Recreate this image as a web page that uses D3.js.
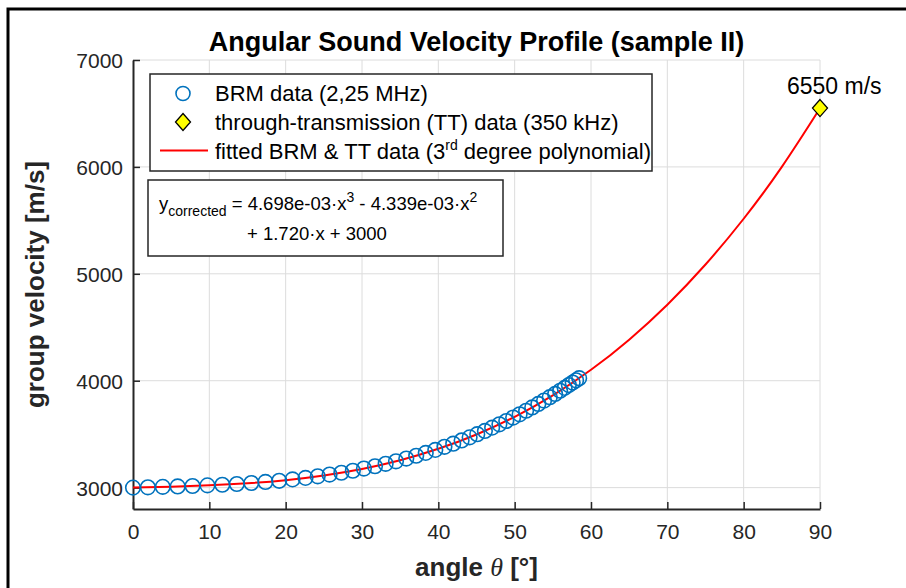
<!DOCTYPE html>
<html>
<head>
<meta charset="utf-8">
<script src="https://cdn.jsdelivr.net/npm/d3@7"></script>
<style>
  body { margin: 0; background: #fff; }
  svg { display: block; }
  text { font-family: "Liberation Sans", Arial, Helvetica, sans-serif; }
</style>
</head>
<body>
<div id="chart"></div>
<script>
// BRM measurements (2,25 MHz)
const brmAngle = [0, 1.95, 3.9, 5.85, 7.8, 9.75, 11.7, 13.6, 15.5, 17.35, 19.15, 20.9, 22.6, 24.2,
  25.75, 27.3, 28.8, 30.25, 31.7, 33.1, 34.45, 35.8, 37.1, 38.35, 39.6, 40.8, 41.95, 43.05, 44.1,
  45.1, 46.1, 47.05, 48.0, 48.9, 49.8, 50.65, 51.5, 52.3, 53.1, 53.85, 54.6, 55.3, 55.95, 56.55,
  57.1, 57.6, 58.05, 58.45];
const brmVelocity = [3000, 3003, 3007, 3011, 3015, 3021, 3027, 3034, 3043, 3053, 3064, 3077, 3091, 3106,
  3122, 3139, 3158, 3178, 3200, 3223, 3246, 3272, 3298, 3325, 3353, 3382, 3411, 3441, 3470,
  3500, 3530, 3561, 3592, 3623, 3655, 3686, 3719, 3750, 3783, 3814, 3846, 3876, 3906, 3933,
  3959, 3983, 4004, 4024];

// through-transmission point (350 kHz)
const ttAngle = [90];
const ttVelocity = [6550];

// fitted curve, every 5 degrees
const fitAngle = [0, 5, 10, 15, 20, 25, 30, 35, 40, 45, 50, 55, 60, 65, 70, 75, 80, 85, 90];
const fitVelocity = [3000, 3009, 3022, 3041, 3070, 3114, 3175, 3256, 3363, 3497, 3662, 3863,
  4102, 4384, 4711, 5087, 5515, 6000, 6548];

const xTicks = [0, 10, 20, 30, 40, 50, 60, 70, 80, 90];
const yTicks = [3000, 4000, 5000, 6000, 7000];

const width = 906, height = 588;
const margin = { left: 133, right: 86, top: 60, bottom: 79 };
const axisColor = "#262626";

const svg = d3.select("#chart").append("svg")
  .attr("width", width)
  .attr("height", height);

// outer figure frame (only top and left visible)
svg.append("rect")
  .attr("x", 8).attr("y", 9)
  .attr("width", 1000).attr("height", 1000)
  .attr("fill", "none")
  .attr("stroke", "#000")
  .attr("stroke-width", 3);

const x = d3.scaleLinear().domain([0, 90]).range([margin.left, width - margin.right]);
const y = d3.scaleLinear().domain([2800, 7000]).range([height - margin.bottom, margin.top]);

// grid
const grid = svg.append("g").attr("stroke", "#dcdcdc").attr("stroke-width", 1);
grid.selectAll(".gx").data(xTicks.filter(d => d > 0)).enter().append("line")
  .attr("x1", d => x(d)).attr("x2", d => x(d))
  .attr("y1", y(2800)).attr("y2", y(7000));
grid.selectAll(".gy").data(yTicks).enter().append("line")
  .attr("x1", x(0)).attr("x2", x(90))
  .attr("y1", d => y(d)).attr("y2", d => y(d));

// axes (ticks point inward like matlab)
const xAxis = svg.append("g")
  .attr("transform", `translate(0,${y(2800)})`)
  .call(d3.axisBottom(x).tickValues(xTicks).tickSizeInner(-7).tickSizeOuter(0).tickPadding(15));
const yAxis = svg.append("g")
  .attr("transform", `translate(${x(0)},0)`)
  .call(d3.axisLeft(y).tickValues(yTicks).tickFormat(d3.format("d"))
    .tickSizeInner(-7).tickSizeOuter(0).tickPadding(10));

[xAxis, yAxis].forEach(a => {
  a.select(".domain").attr("stroke", axisColor).attr("stroke-width", 2);
  a.selectAll(".tick line").attr("stroke", axisColor).attr("stroke-width", 1.5);
  a.selectAll(".tick text")
    .attr("fill", axisColor)
    .style("font-size", "21px")
    .style("font-family", "'Liberation Sans', Arial, sans-serif");
});
yAxis.selectAll(".tick text").attr("dy", "0.36em");

// fitted line
const line = d3.line()
  .x((d, i) => x(fitAngle[i]))
  .y(d => y(d))
  .curve(d3.curveNatural);

svg.append("path")
  .datum(fitVelocity)
  .attr("d", line)
  .attr("fill", "none")
  .attr("stroke", "#ff0000")
  .attr("stroke-width", 2);

// BRM circles
svg.append("g").selectAll("circle")
  .data(brmAngle)
  .enter().append("circle")
  .attr("cx", d => x(d))
  .attr("cy", (d, i) => y(brmVelocity[i]))
  .attr("r", 7.3)
  .attr("fill", "none")
  .attr("stroke", "#0072bd")
  .attr("stroke-width", 1.6);

// TT diamond, matlab style (wider than d3's)
const diamond = "M0,-8.5L7.5,0L0,8.5L-7.5,0Z";
svg.append("g").selectAll("path")
  .data(ttAngle)
  .enter().append("path")
  .attr("d", diamond)
  .attr("transform", (d, i) => `translate(${x(d)},${y(ttVelocity[i])})`)
  .attr("fill", "#ffff00")
  .attr("stroke", "#000")
  .attr("stroke-width", 1.3);

svg.append("text")
  .attr("x", x(ttAngle[0]) - 33)
  .attr("y", y(ttVelocity[0]) - 14)
  .style("font-size", "23px")
  .attr("fill", "#000")
  .text(ttVelocity[0] + " m/s");

// title and axis labels
svg.append("text")
  .attr("x", (x(0) + x(90)) / 2)
  .attr("y", 51)
  .attr("text-anchor", "middle")
  .style("font-size", "27px")
  .style("font-weight", "bold")
  .attr("fill", "#000")
  .text("Angular Sound Velocity Profile (sample II)");

const xl = svg.append("text")
  .attr("x", (x(0) + x(90)) / 2)
  .attr("y", 576)
  .attr("text-anchor", "middle")
  .style("font-size", "26px")
  .style("font-weight", "bold")
  .attr("fill", axisColor);
xl.append("tspan").text("angle ");
xl.append("tspan").style("font-family", "'Liberation Serif', 'Times New Roman', serif").style("font-style", "italic").style("font-weight", "normal").text("θ");
xl.append("tspan").text(" [°]");

svg.append("text")
  .attr("transform", `translate(44,${(y(2800) + y(7000)) / 2}) rotate(-90)`)
  .attr("text-anchor", "middle")
  .style("font-size", "26px")
  .style("font-weight", "bold")
  .attr("fill", axisColor)
  .text("group velocity [m/s]");

// legend
const legend = svg.append("g");
legend.append("rect")
  .attr("x", 150).attr("y", 74).attr("width", 502).attr("height", 97)
  .attr("fill", "#fff").attr("stroke", "#262626").attr("stroke-width", 1.5);

legend.append("circle")
  .attr("cx", 183).attr("cy", 93.5).attr("r", 7)
  .attr("fill", "none").attr("stroke", "#0072bd").attr("stroke-width", 1.6);
legend.append("path")
  .attr("d", diamond)
  .attr("transform", "translate(183,122)")
  .attr("fill", "#ffff00").attr("stroke", "#000").attr("stroke-width", 1.3);
legend.append("line")
  .attr("x1", 160).attr("x2", 208).attr("y1", 150.5).attr("y2", 150.5)
  .attr("stroke", "#ff0000").attr("stroke-width", 2);

const legendFont = "22px";
legend.append("text").attr("x", 215).attr("y", 101).style("font-size", legendFont)
  .text("BRM data (2,25 MHz)");
legend.append("text").attr("x", 215).attr("y", 130).style("font-size", legendFont)
  .text("through-transmission (TT) data (350 kHz)");
const lt = legend.append("text").attr("x", 215).attr("y", 159).style("font-size", legendFont);
lt.append("tspan").text("fitted BRM & TT data (3");
lt.append("tspan").attr("dy", -9).style("font-size", "14px").text("rd");
lt.append("tspan").attr("dy", 9).text(" degree polynomial)");

// equation box
const eq = svg.append("g");
eq.append("rect")
  .attr("x", 148).attr("y", 180).attr("width", 355).attr("height", 76)
  .attr("fill", "#fff").attr("stroke", "#262626").attr("stroke-width", 1.5);

const e1 = eq.append("text").attr("x", 159).attr("y", 210).style("font-size", "18.5px");
e1.append("tspan").text("y");
e1.append("tspan").attr("dy", 6).style("font-size", "14px").text("corrected");
e1.append("tspan").attr("dy", -6).text(" = 4.698e-03·x");
e1.append("tspan").attr("dy", -8).style("font-size", "14px").text("3");
e1.append("tspan").attr("dy", 8).text(" - 4.339e-03·x");
e1.append("tspan").attr("dy", -8).style("font-size", "14px").text("2");

eq.append("text").attr("x", 247).attr("y", 240).style("font-size", "18.5px")
  .text("+ 1.720·x + 3000");
</script>
</body>
</html>
